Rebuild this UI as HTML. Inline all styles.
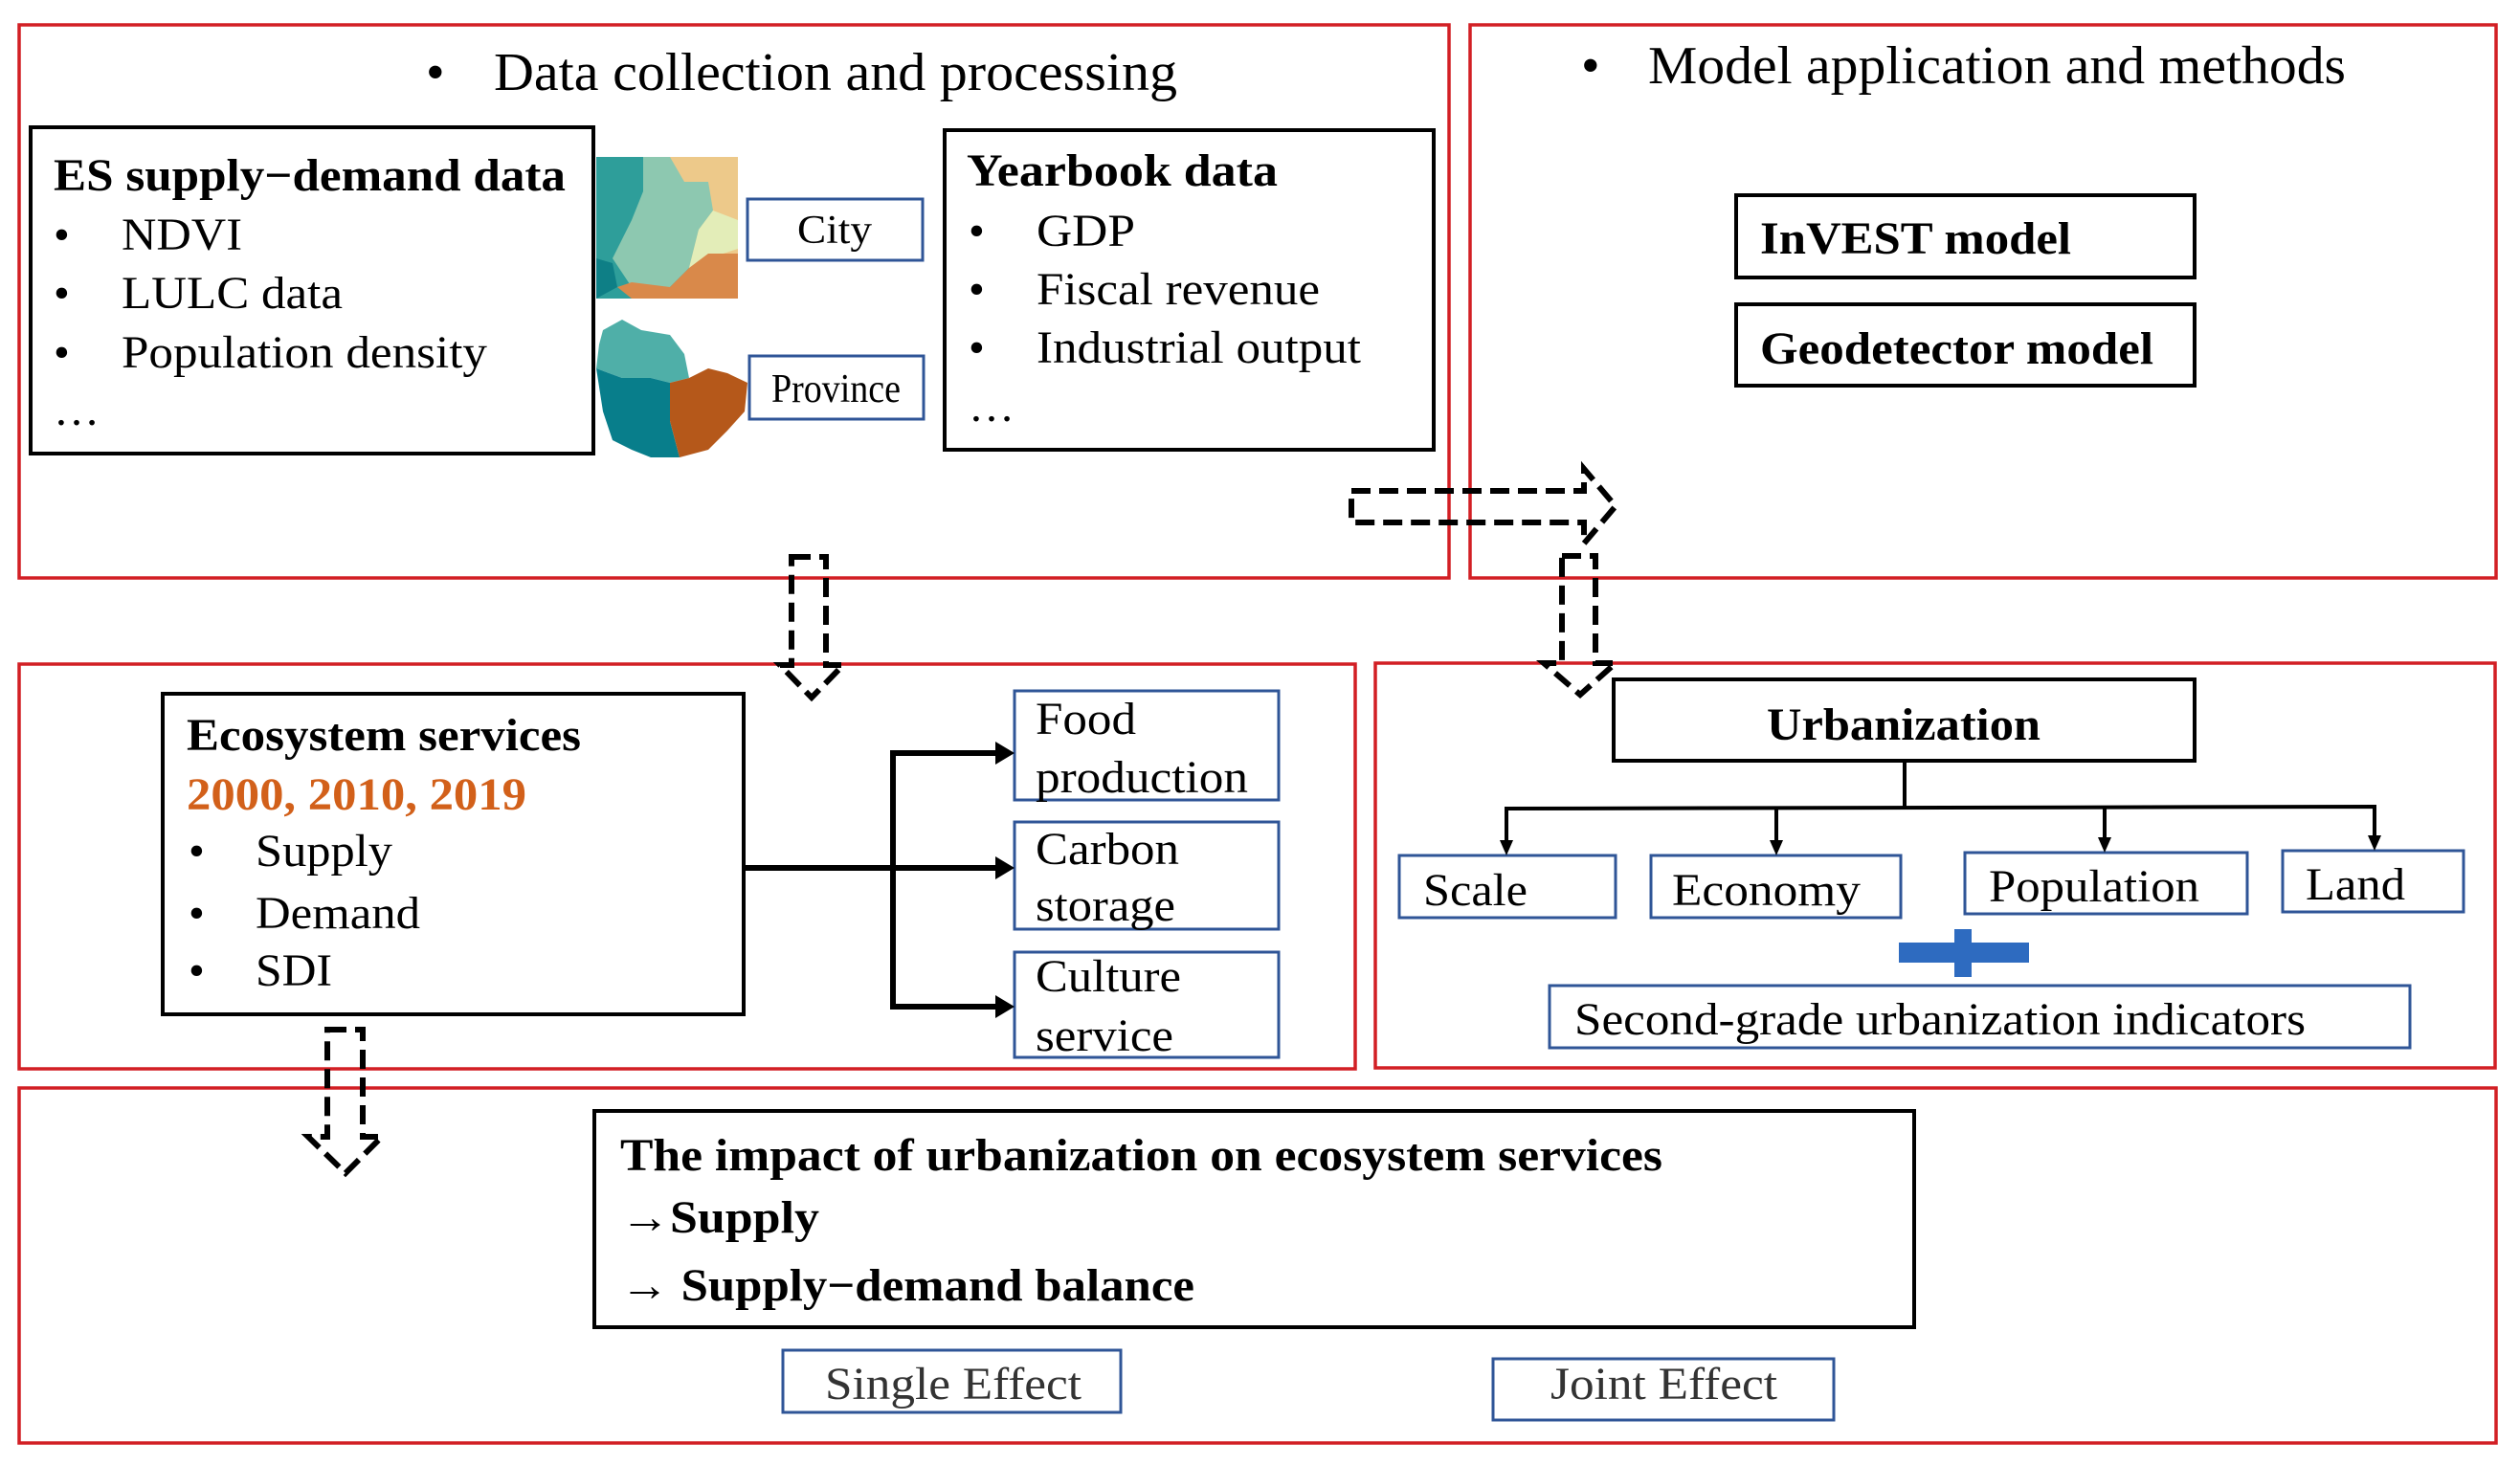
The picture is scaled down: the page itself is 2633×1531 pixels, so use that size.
<!DOCTYPE html>
<html><head><meta charset="utf-8"><style>
html,body{margin:0;padding:0;background:#fff;}
svg{display:block;}
text{font-family:"Liberation Serif",serif;fill:#000;}
.b{font-weight:bold;}
</style></head><body>
<svg width="2633" height="1531" viewBox="0 0 2633 1531" xmlns="http://www.w3.org/2000/svg">
<g fill="none" stroke="#D21F24" stroke-width="3.5">
<rect x="20" y="26" width="1494" height="578"/>
<rect x="1536" y="26" width="1072" height="578"/>
<rect x="20" y="694" width="1396" height="423"/>
<rect x="1437" y="693" width="1170" height="423"/>
<rect x="20" y="1137" width="2588" height="371"/>
</g>
<g fill="none" stroke="#000" stroke-width="4">
<rect x="32" y="133" width="588" height="341"/>
<rect x="987" y="136" width="511" height="334"/>
<rect x="1814" y="204" width="479" height="86"/>
<rect x="1814" y="318" width="479" height="85"/>
<rect x="1686" y="710" width="607" height="85"/>
<rect x="170" y="725" width="607" height="335"/>
<rect x="621" y="1161" width="1379" height="226"/>
</g>
<g fill="none" stroke="#2F5597" stroke-width="3">
<rect x="781" y="208" width="183" height="64"/>
<rect x="783" y="372" width="182" height="66"/>
<rect x="1060" y="722" width="276" height="114"/>
<rect x="1060" y="859" width="276" height="112"/>
<rect x="1060" y="995" width="276" height="110"/>
<rect x="1462" y="894" width="226" height="65"/>
<rect x="1725" y="894" width="261" height="65"/>
<rect x="2053" y="891" width="295" height="64"/>
<rect x="2385" y="889" width="189" height="64"/>
<rect x="1619" y="1030" width="899" height="65"/>
<rect x="818" y="1411" width="353" height="65"/>
<rect x="1560" y="1420" width="356" height="64"/>
</g>
<!-- maps -->
<g>
<rect x="623" y="164" width="148" height="148" fill="#EDC98A"/>
<polygon points="623,164 672,164 672,200 690,215 700,260 720,280 700,312 623,312" fill="#2E9E9A"/>
<polygon points="672,164 700,164 715,190 740,190 745,220 730,240 720,280 700,300 660,300 640,270 660,230 672,200" fill="#8DC8B0"/>
<polygon points="730,240 745,220 771,230 771,260 740,270 720,280" fill="#E3EDB8"/>
<polygon points="720,280 740,265 771,265 771,312 660,312 645,300 660,295 700,300" fill="#D9894A"/>
<polygon points="623,270 640,275 645,300 623,312" fill="#0E7F86"/>
<polygon points="630,345 650,334 670,345 700,350 715,370 720,395 700,400 680,395 650,395 623,385 626,360" fill="#4FAFA8"/>
<polygon points="623,385 650,395 680,395 700,400 700,440 710,478 680,478 660,470 640,460 630,430" fill="#087E8B"/>
<polygon points="700,400 720,395 740,385 760,390 781,400 778,430 760,450 740,470 710,478 700,440" fill="#B5581A"/>
</g>
<!-- dashed arrows -->
<g fill="none" stroke="#000" stroke-width="6" stroke-dasharray="20 9">
<polygon points="1412,513 1655,513 1655,490 1688,529 1655,568 1655,546 1412,546"/>
<polygon points="827,582 863,582 863,695 881,695 848,729 815,695 827,695"/>
<polygon points="1632,581 1667,581 1667,693 1688,693 1651,726 1613,693 1632,693"/>
<polygon points="342,1076 379,1076 379,1188 399,1188 361,1226 322,1188 342,1188"/>
</g>
<!-- solid connectors -->
<g stroke="#000" stroke-width="6" fill="none">
<line x1="777" y1="907" x2="1045" y2="907"/>
<polyline points="1045,787 933,787 933,1052 1045,1052"/>
</g>
<g fill="#000">
<polygon points="1040,775 1060,787 1040,799"/>
<polygon points="1040,895 1060,907 1040,919"/>
<polygon points="1040,1040 1060,1052 1040,1064"/>
</g>
<g stroke="#000" stroke-width="4" fill="none">
<line x1="1990" y1="795" x2="1990" y2="843"/>
<polyline points="1574,880 1574,845 2481,843 2481,878"/>
<line x1="1856" y1="845" x2="1856" y2="880"/>
<line x1="2199" y1="843" x2="2199" y2="877"/>
</g>
<g fill="#000">
<polygon points="1567,878 1581,878 1574,894"/>
<polygon points="1849,878 1863,878 1856,894"/>
<polygon points="2192,875 2206,875 2199,891"/>
<polygon points="2474,873 2488,873 2481,889"/>
</g>
<g fill="#2E6BC0">
<rect x="1984" y="985" width="136" height="21"/>
<rect x="2042" y="971" width="18" height="50"/>
</g>
<!-- text -->
<g font-size="56">
<text x="445" y="94">•</text>
<text x="516" y="94" textLength="714" lengthAdjust="spacingAndGlyphs">Data collection and processing</text>
<text x="1652" y="87">•</text>
<text x="1722" y="87" textLength="729" lengthAdjust="spacingAndGlyphs">Model application and methods</text>
</g>
<g font-size="48" class="b">
<text class="b" x="56" y="199" textLength="535" lengthAdjust="spacingAndGlyphs">ES supply−demand data</text>
<text class="b" x="1010" y="194" textLength="325" lengthAdjust="spacingAndGlyphs">Yearbook data</text>
<text class="b" x="1839" y="265" textLength="325" lengthAdjust="spacingAndGlyphs">InVEST model</text>
<text class="b" x="1839" y="380" textLength="411" lengthAdjust="spacingAndGlyphs">Geodetector model</text>
<text class="b" x="1846" y="773" textLength="286" lengthAdjust="spacingAndGlyphs">Urbanization</text>
<text class="b" x="195" y="784" textLength="412" lengthAdjust="spacingAndGlyphs">Ecosystem services</text>
<text class="b" x="195" y="846" textLength="355" lengthAdjust="spacingAndGlyphs" style="fill:#D2601A">2000, 2010, 2019</text>
<text class="b" x="648" y="1223" textLength="1089" lengthAdjust="spacingAndGlyphs">The impact of urbanization on ecosystem services</text>
<text class="b" x="648" y="1288" textLength="208" lengthAdjust="spacingAndGlyphs">→Supply</text>
<text class="b" x="648" y="1359" textLength="600" lengthAdjust="spacingAndGlyphs">→ Supply−demand balance</text>
</g>
<g font-size="48">
<text x="56" y="261">•</text><text x="127" y="261" textLength="126" lengthAdjust="spacingAndGlyphs">NDVI</text>
<text x="56" y="322">•</text><text x="127" y="322" textLength="231" lengthAdjust="spacingAndGlyphs">LULC data</text>
<text x="56" y="384">•</text><text x="127" y="384" textLength="382" lengthAdjust="spacingAndGlyphs">Population density</text>
<text x="56" y="444">…</text>
<text x="1012" y="257">•</text><text x="1083" y="257" textLength="103" lengthAdjust="spacingAndGlyphs">GDP</text>
<text x="1012" y="318">•</text><text x="1083" y="318" textLength="296" lengthAdjust="spacingAndGlyphs">Fiscal revenue</text>
<text x="1012" y="379">•</text><text x="1083" y="379" textLength="339" lengthAdjust="spacingAndGlyphs">Industrial output</text>
<text x="1012" y="440">…</text>
<text x="197" y="905">•</text><text x="267" y="905" textLength="143" lengthAdjust="spacingAndGlyphs">Supply</text>
<text x="197" y="970">•</text><text x="267" y="970" textLength="172" lengthAdjust="spacingAndGlyphs">Demand</text>
<text x="197" y="1030">•</text><text x="267" y="1030" textLength="80" lengthAdjust="spacingAndGlyphs">SDI</text>
<text x="1082" y="767" textLength="105" lengthAdjust="spacingAndGlyphs">Food</text>
<text x="1082" y="828" textLength="222" lengthAdjust="spacingAndGlyphs">production</text>
<text x="1082" y="903" textLength="150" lengthAdjust="spacingAndGlyphs">Carbon</text>
<text x="1082" y="962" textLength="146" lengthAdjust="spacingAndGlyphs">storage</text>
<text x="1082" y="1036" textLength="152" lengthAdjust="spacingAndGlyphs">Culture</text>
<text x="1082" y="1098" textLength="144" lengthAdjust="spacingAndGlyphs">service</text>
<text x="1487" y="946" textLength="109" lengthAdjust="spacingAndGlyphs">Scale</text>
<text x="1747" y="946" textLength="197" lengthAdjust="spacingAndGlyphs">Economy</text>
<text x="2078" y="942" textLength="220" lengthAdjust="spacingAndGlyphs">Population</text>
<text x="2409" y="940" textLength="104" lengthAdjust="spacingAndGlyphs">Land</text>
<text x="1645" y="1081" textLength="764" lengthAdjust="spacingAndGlyphs">Second-grade urbanization indicators</text>
<text x="862" y="1462" textLength="268" lengthAdjust="spacingAndGlyphs" style="fill:#333">Single Effect</text>
<text x="1620" y="1462" textLength="237" lengthAdjust="spacingAndGlyphs" style="fill:#333">Joint Effect</text>
</g>
<g font-size="42">
<text x="833" y="254" textLength="78" lengthAdjust="spacingAndGlyphs">City</text>
<text x="806" y="420" textLength="135" lengthAdjust="spacingAndGlyphs">Province</text>
</g>
</svg>
</body></html>
